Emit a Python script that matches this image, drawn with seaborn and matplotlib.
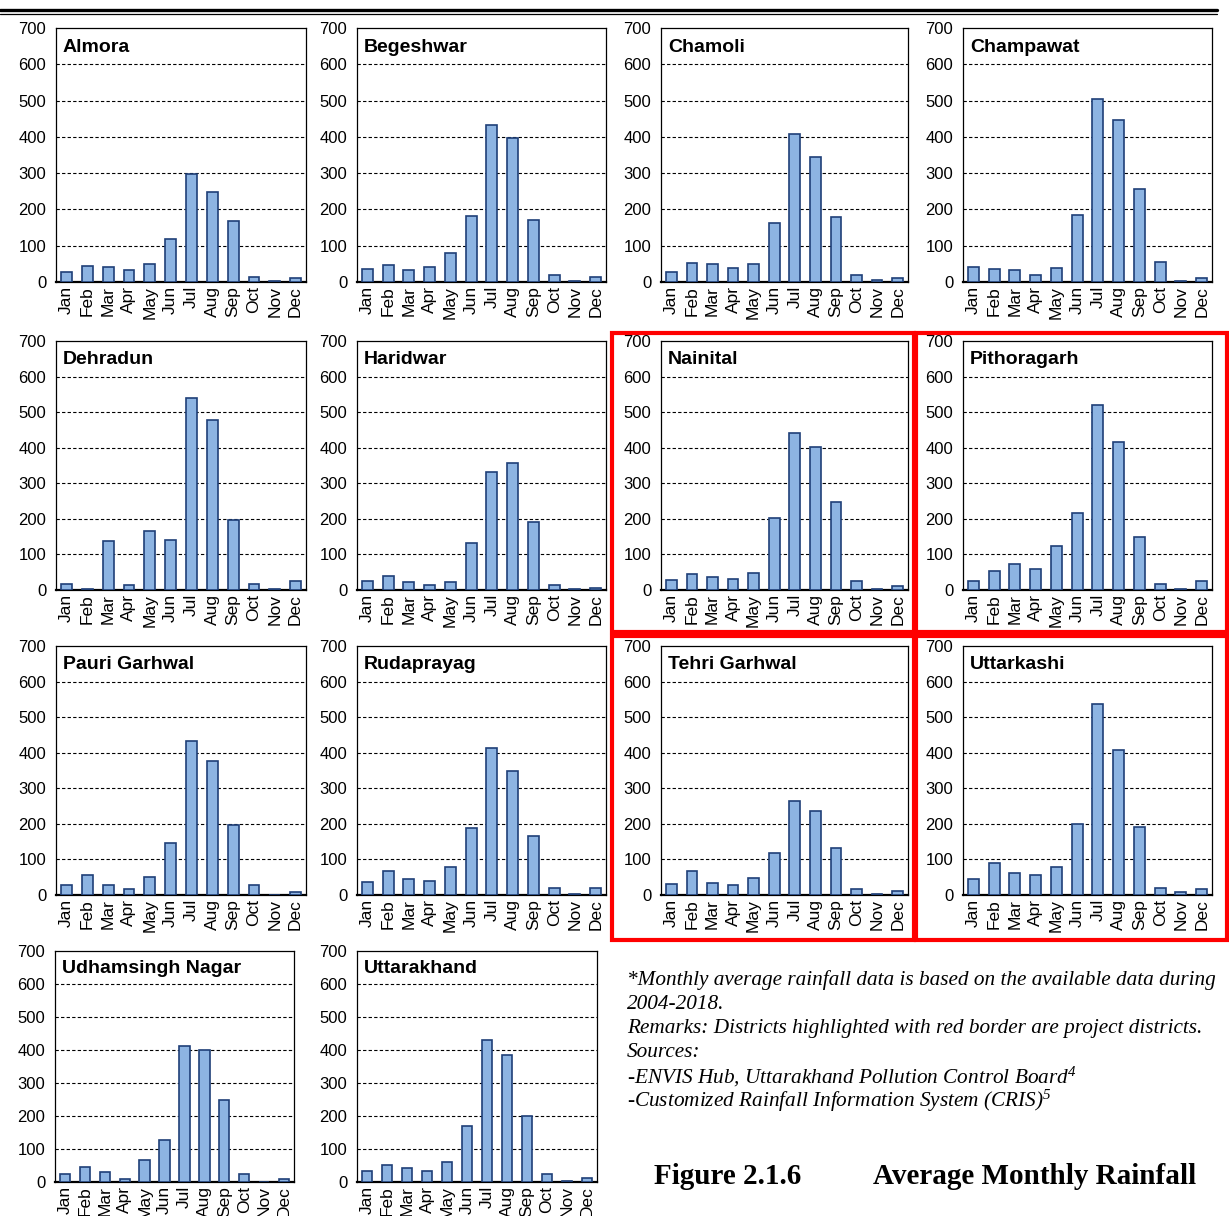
import matplotlib
matplotlib.use("Agg")
import matplotlib.pyplot as plt
from matplotlib.patches import Rectangle
from matplotlib.lines import Line2D
import pandas as pd
import seaborn as sns

months = ["Jan", "Feb", "Mar", "Apr", "May", "Jun",
          "Jul", "Aug", "Sep", "Oct", "Nov", "Dec"]

almora = [28, 45, 40, 32, 50, 118, 298, 248, 167, 15, 4, 10]
begeshwar = [35, 47, 33, 40, 80, 183, 432, 398, 170, 18, 2, 14]
chamoli = [27, 52, 49, 39, 50, 162, 407, 345, 178, 19, 5, 10]
champawat = [40, 36, 32, 18, 38, 185, 505, 447, 257, 55, 2, 10]
dehradun = [18, 3, 138, 15, 165, 140, 541, 478, 197, 18, 2, 26]
haridwar = [25, 38, 23, 14, 22, 133, 333, 357, 192, 15, 2, 5]
nainital = [28, 45, 37, 30, 48, 203, 442, 402, 247, 25, 4, 12]
pithoragarh = [26, 53, 73, 58, 125, 217, 520, 417, 150, 17, 3, 24]
pauri_garhwal = [29, 55, 27, 18, 52, 146, 432, 377, 197, 27, 1, 8]
rudaprayag = [36, 68, 46, 40, 78, 187, 412, 350, 167, 19, 3, 19]
tehri_garhwal = [31, 67, 34, 28, 48, 118, 264, 236, 132, 17, 4, 12]
uttarkashi = [45, 90, 62, 56, 79, 200, 537, 407, 191, 20, 8, 17]
udhamsingh_nagar = [24, 44, 29, 9, 66, 126, 412, 399, 247, 24, 1, 10]
uttarakhand = [32, 53, 41, 32, 61, 171, 429, 386, 200, 24, 4, 13]

panels = [
    ("Almora", almora), ("Begeshwar", begeshwar),
    ("Chamoli", chamoli), ("Champawat", champawat),
    ("Dehradun", dehradun), ("Haridwar", haridwar),
    ("Nainital", nainital), ("Pithoragarh", pithoragarh),
    ("Pauri Garhwal", pauri_garhwal), ("Rudaprayag", rudaprayag),
    ("Tehri Garhwal", tehri_garhwal), ("Uttarkashi", uttarkashi),
    ("Udhamsingh Nagar", udhamsingh_nagar), ("Uttarakhand", uttarakhand),
]

y_ticks = [0, 100, 200, 300, 400, 500, 600, 700]

sns.set_theme(style="white")
plt.rcParams["font.family"] = ["Liberation Sans", "DejaVu Sans"]
plt.rcParams["mathtext.fontset"] = "custom"
plt.rcParams["mathtext.it"] = "Liberation Serif:italic"
plt.rcParams["mathtext.rm"] = "Liberation Serif:italic"

W, H = 1229, 1216
fig = plt.figure(figsize=(W / 100, H / 100), dpi=100)
fig.patch.set_facecolor("white")

# panel boxes in pixels: (left, top, right, bottom)
col_x = [(56, 306), (357, 606), (661, 908), (963, 1212)]
row_y = [(28, 282), (341, 590), (646, 895)]
boxes = []
for r in range(3):
    for c in range(4):
        boxes.append((col_x[c][0], row_y[r][0], col_x[c][1], row_y[r][1]))
boxes.append((55, 951, 294, 1182))
boxes.append((357, 951, 597, 1182))

BAR_FILL = "#8DB4E2"
BAR_EDGE = "#1F3F78"

for (name, vals), (l, t, r, b) in zip(panels, boxes):
    ax = fig.add_axes([l / W, 1 - b / H, (r - l) / W, (b - t) / H])
    df = pd.DataFrame({"month": months, "rain": vals})
    sns.barplot(data=df, x="month", y="rain", color=BAR_FILL,
                edgecolor=BAR_EDGE, linewidth=1.2, width=0.52,
                saturation=1, ax=ax, zorder=3)
    ax.set_ylim(0, 700)
    ax.set_xlim(-0.5, 11.5)
    ax.set_yticks(y_ticks)
    ax.set_yticklabels([str(v) for v in y_ticks], fontsize=12)
    ax.set_xticks(range(12))
    ax.set_xticklabels(months, rotation=90, fontsize=12.5)
    ax.tick_params(axis="both", length=0, pad=3, colors="black")
    ax.tick_params(axis="y", pad=7)
    ax.set_xlabel("")
    ax.set_ylabel("")
    for yv in y_ticks[1:-1]:
        ax.axhline(yv, color="black", linestyle=(0, (3, 2)),
                   linewidth=0.8, zorder=1)
    for side in ["left", "right", "top"]:
        ax.spines[side].set_color("black")
        ax.spines[side].set_linewidth(0.9)
    ax.spines["bottom"].set_color("black")
    ax.spines["bottom"].set_linewidth(1.6)
    ax.text(0.028, 0.925, name, transform=ax.transAxes, fontsize=14,
            fontweight="bold", ha="left", va="center", color="black")

# red borders around project districts
red_boxes = [(612, 333, 914, 632), (916, 333, 1227, 632),
             (612, 636, 914, 940), (916, 636, 1227, 940)]
for (l, t, r, b) in red_boxes:
    fig.patches.append(Rectangle((l / W, 1 - b / H), (r - l) / W, (b - t) / H,
                                 transform=fig.transFigure, fill=False,
                                 edgecolor="#FF0000", linewidth=3.0,
                                 zorder=10))

# header rule (thick + thin)
fig.add_artist(Line2D([0, 1217 / W], [1 - 9.5 / H] * 2,
                      transform=fig.transFigure, color="black", linewidth=2.4))
fig.add_artist(Line2D([0, 1217 / W], [1 - 13.5 / H] * 2,
                      transform=fig.transFigure, color="black", linewidth=0.9))

# notes
serif = ["Liberation Serif", "DejaVu Serif"]
note_lines = [
    "*Monthly average rainfall data is based on the available data during",
    "2004-2018.",
    "Remarks: Districts highlighted with red border are project districts.",
    "Sources:",
    r"-ENVIS Hub, Uttarakhand Pollution Control Board$^{4}$",
    r"-Customized Rainfall Information System (CRIS)$^{5}$",
]
for i, line in enumerate(note_lines):
    y = 980 + i * 24.2
    fig.text(627 / W, 1 - y / H, line, family=serif, style="italic",
             fontsize=15.3, ha="left", va="center", color="black")

fig.text(654 / W, 1 - 1176 / H, "Figure 2.1.6", family=serif,
         fontweight="bold", fontsize=21, ha="left", va="center",
         color="black")
fig.text(873 / W, 1 - 1176 / H, "Average Monthly Rainfall", family=serif,
         fontweight="bold", fontsize=21, ha="left", va="center",
         color="black")

fig.savefig("out.png", dpi=100, facecolor="white")
